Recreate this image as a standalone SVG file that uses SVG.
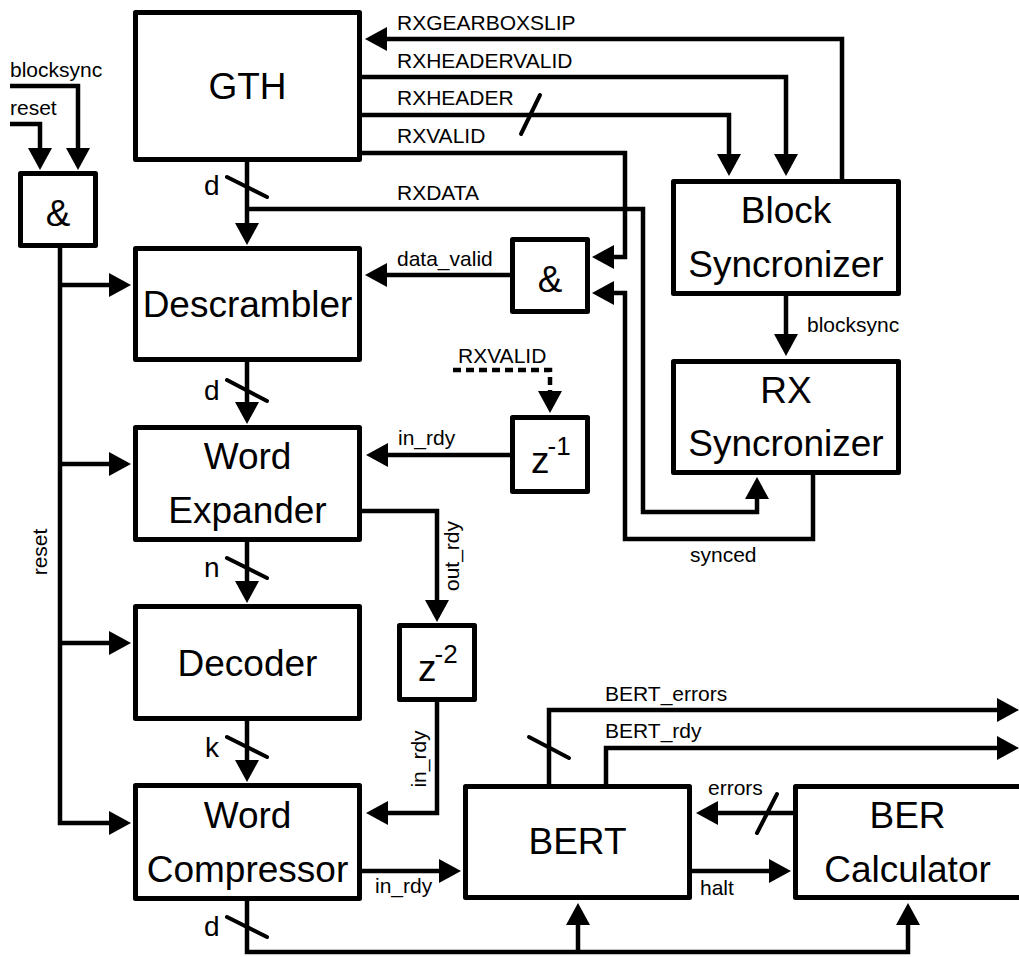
<svg xmlns="http://www.w3.org/2000/svg" width="1019" height="957" viewBox="0 0 1019 957">
<style>
.box{fill:#fff;stroke:#000;stroke-width:5;stroke-linejoin:round}
.w{fill:none;stroke:#000;stroke-width:4.5;stroke-linejoin:miter}
.a{marker-end:url(#ah)}
.dash{stroke-dasharray:8 5}
.sl{stroke:#000;stroke-width:4;stroke-linecap:round}
.big{font-family:"Liberation Sans",Arial,sans-serif;font-size:37px;text-anchor:middle;fill:#000}
.zt{font-family:"Liberation Sans",Arial,sans-serif;font-size:37px;text-anchor:start;fill:#000}
.lab{font-family:"Liberation Sans",Arial,sans-serif;font-size:21px;fill:#000}
.mid{text-anchor:middle}
.bus{font-family:"Liberation Sans",Arial,sans-serif;font-size:28px;fill:#000}
.sup{font-size:26px}
</style>
<defs>
<marker id="ah" markerUnits="userSpaceOnUse" markerWidth="22" markerHeight="24" refX="14" refY="12" orient="auto" viewBox="0 0 22 24">
<path d="M0,0 L22,12 L0,24 Z" fill="#000"/>
</marker>
</defs>
<rect width="1019" height="957" fill="#fff"/>

<g id="connectors">
<path class="w a" d="M10,86 H78 V162"/>
<path class="w a" d="M10,124 H40 V162"/>
<path class="w a" d="M60,248 V823 H123"/>
<path class="w a" d="M60,285 H123"/>
<path class="w a" d="M60,464 H123"/>
<path class="w a" d="M60,643 H123"/>
<path class="w a" d="M247,162 V237"/>
<path class="w a" d="M247,209 H643 V512 H757 V485"/>
<path class="w a" d="M247,362 V416"/>
<path class="w a" d="M247,542 V595"/>
<path class="w a" d="M247,721 V774"/>
<path class="w a" d="M247,901 V952 H908 V911"/>
<path class="w a" d="M578,952 V911"/>
<path class="w a" d="M842,179 V39 H373"/>
<path class="w a" d="M362,77 H786 V168"/>
<path class="w a" d="M362,115 H729 V168"/>
<path class="w a" d="M362,153 H625 V257 H600"/>
<path class="w a" d="M510,275 H373"/>
<path class="w a" d="M813,475 V539 H625 V293 H600"/>
<path class="w a" d="M786,296 V348"/>
<path class="w a" d="M510,455 H374"/>
<path class="w a dash" d="M453,370 H550 V405"/>
<path class="w a" d="M362,511 H437 V614"/>
<path class="w a" d="M437,702 V813 H374"/>
<path class="w a" d="M362,871 H453"/>
<path class="w a" d="M549,784 V710 H1011"/>
<path class="w a" d="M606,784 V748 H1011"/>
<path class="w a" d="M793,813 H704"/>
<path class="w a" d="M692,871 H783"/>
<line class="sl" x1="227" y1="177" x2="267" y2="197"/>
<line class="sl" x1="227" y1="380" x2="267" y2="401"/>
<line class="sl" x1="227" y1="558" x2="267" y2="578"/>
<line class="sl" x1="227" y1="737" x2="267" y2="757"/>
<line class="sl" x1="227" y1="917" x2="267" y2="937"/>
<line class="sl" x1="540" y1="95" x2="521" y2="134"/>
<line class="sl" x1="529" y1="737" x2="569" y2="758"/>
<line class="sl" x1="777" y1="794" x2="757" y2="833"/>
<text class="bus" x="204" y="195">d</text>
<text class="bus" x="204" y="400">d</text>
<text class="bus" x="204" y="577">n</text>
<text class="bus" x="205" y="757">k</text>
<text class="bus" x="204" y="936">d</text>
<text class="lab" x="10" y="77">blocksync</text>
<text class="lab" x="10" y="115">reset</text>
<text class="lab mid" transform="translate(47,552) rotate(-90)">reset</text>
<text class="lab" x="397" y="30">RXGEARBOXSLIP</text>
<text class="lab" x="397" y="68">RXHEADERVALID</text>
<text class="lab" x="397" y="105">RXHEADER</text>
<text class="lab" x="397" y="143">RXVALID</text>
<text class="lab" x="397" y="200">RXDATA</text>
<text class="lab" x="397" y="266">data_valid</text>
<text class="lab" x="807" y="332">blocksync</text>
<text class="lab" x="690" y="562">synced</text>
<text class="lab" x="458" y="363">RXVALID</text>
<text class="lab" x="398" y="445">in_rdy</text>
<text class="lab mid" transform="translate(459,556) rotate(-90)">out_rdy</text>
<text class="lab mid" transform="translate(426,759) rotate(-90)">in_rdy</text>
<text class="lab" x="375" y="893">in_rdy</text>
<text class="lab" x="605" y="701">BERT_errors</text>
<text class="lab" x="605" y="738">BERT_rdy</text>
<text class="lab" x="708" y="795">errors</text>
<text class="lab" x="700" y="895">halt</text>
</g>

<g id="gth"><rect class="box" x="135.5" y="12.5" width="224" height="147"/><text class="big" x="247.5" y="99">GTH</text></g>
<g id="and-reset"><rect class="box" x="20.5" y="173.5" width="75" height="72"/><text class="big" x="58" y="226">&amp;</text></g>
<g id="descrambler"><rect class="box" x="135.5" y="248.5" width="224" height="111"/><text class="big" x="247.5" y="317">Descrambler</text></g>
<g id="word-expander"><rect class="box" x="135.5" y="427.5" width="224" height="112"/><text class="big" x="247.5" y="469">Word</text><text class="big" x="247.5" y="523">Expander</text></g>
<g id="decoder"><rect class="box" x="135.5" y="606.5" width="224" height="112"/><text class="big" x="247.5" y="676">Decoder</text></g>
<g id="word-compressor"><rect class="box" x="135.5" y="785.5" width="224" height="113"/><text class="big" x="247.5" y="828">Word</text><text class="big" x="247.5" y="882">Compressor</text></g>
<g id="and-valid"><rect class="box" x="512.5" y="239.5" width="75" height="72"/><text class="big" x="550" y="292">&amp;</text></g>
<g id="block-sync"><rect class="box" x="673.5" y="181.5" width="225" height="112"/><text class="big" x="786" y="223">Block</text><text class="big" x="786" y="277">Syncronizer</text></g>
<g id="rx-sync"><rect class="box" x="673.5" y="361.5" width="225" height="111"/><text class="big" x="786" y="403">RX</text><text class="big" x="786" y="456">Syncronizer</text></g>
<g id="z1"><rect class="box" x="512.5" y="417.5" width="75" height="74"/><text class="zt" x="531" y="473">z<tspan class="sup" dx="-2" dy="-18">-1</tspan></text></g>
<g id="z2"><rect class="box" x="399.5" y="625.5" width="75" height="74"/><text class="zt" x="418" y="681">z<tspan class="sup" dx="-2" dy="-18">-2</tspan></text></g>
<g id="bert"><rect class="box" x="465.5" y="786.5" width="224" height="111"/><text class="big" x="577.5" y="854">BERT</text></g>
<g id="ber-calc"><rect class="box" x="795.5" y="786.5" width="227" height="111"/><text class="big" x="907.5" y="828">BER</text><text class="big" x="907.5" y="882">Calculator</text></g>
</svg>
